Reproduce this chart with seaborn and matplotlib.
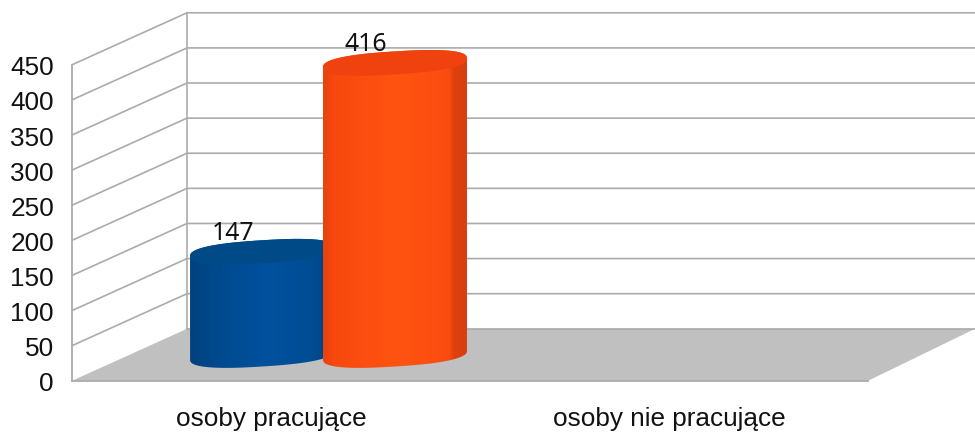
import numpy as np
import pandas as pd
import matplotlib
matplotlib.use('Agg')
import matplotlib.pyplot as plt
from matplotlib.colors import LinearSegmentedColormap
from matplotlib.patches import Polygon

import seaborn as sns

categories = ['osoby pracujące', 'osoby nie pracujące']
series_names = ['seria 1', 'seria 2']
values_first = [147, np.nan]
values_second = [416, np.nan]
y_ticks = [0, 50, 100, 150, 200, 250, 300, 350, 400, 450]

base_colors = ['#00509C', '#FF5011']
top_colors = ['#004A88', '#F0420F']
shade_stops = [
    [(0, '#00427E'), (0.12, '#004788'), (0.3, '#004C93'), (0.55, '#00519F'), (0.85, '#004C93'), (1, '#00427C')],
    [(0, '#E8420E'), (0.08, '#F8480E'), (0.5, '#FF5411'), (0.88, '#FA4C10'), (0.91, '#DE410F'), (1, '#D83E0E')],
]
wall_color = '#ABABAB'
floor_color = '#C0C0C0'

W, H = 975, 439
px_x = 398  # pixels per category
px_y = 316 / 450  # pixels per value unit
depth_x = 115 / px_x
depth_y = 52 / px_y


def draw_walls(ax):
    x0 = -0.5
    x_back = x0 + depth_x
    x_end = (W - 72) / px_x - 0.5
    # floor
    ax.add_patch(Polygon([(x0, 0), (x_back, depth_y), (x_end, depth_y), (1.5, 0)],
                         facecolor=floor_color, edgecolor='none', clip_on=False, zorder=1))
    # grid lines go along the side wall and then along the back wall
    for tick in y_ticks[1:]:
        ax.plot([x0, x_back, x_end], [tick, tick + depth_y, tick + depth_y],
                color=wall_color, lw=1.2, clip_on=False, zorder=2)
    ax.plot([x_back, x_end], [depth_y, depth_y], color=wall_color, lw=1.2, clip_on=False, zorder=2)
    ax.plot([x_back, x_back], [depth_y, y_ticks[-1] + depth_y],
            color=wall_color, lw=1.2, clip_on=False, zorder=2)


def draw_cylinder(ax, bar, stops, top_color, order):
    a = bar.get_width() / 2
    cx = bar.get_x() + a
    h = bar.get_height()
    tilt = 4.5 / px_y
    b = 11.5 / px_y

    t_up = np.linspace(0, np.pi, 80)
    t_low = np.linspace(np.pi, 2 * np.pi, 80)
    t_all = np.linspace(0, 2 * np.pi, 160)

    def curve(t, level):
        # slightly squarer than an ellipse, like the 3d cylinder ends
        c = np.sign(np.cos(t)) * np.abs(np.cos(t)) ** 0.8
        s = np.sign(np.sin(t)) * np.abs(np.sin(t)) ** 0.8
        return np.column_stack([cx + a * c, level + b * s + tilt * c])

    outline = np.vstack([curve(t_up, h), curve(t_low, 0)])
    shape = Polygon(outline, transform=ax.transData)
    bar.set_clip_path(shape)
    bar.set_zorder(3 + order * 3)

    cmap = LinearSegmentedColormap.from_list('shade', stops)
    im = ax.imshow(np.linspace(0, 1, 256).reshape(1, -1), cmap=cmap, aspect='auto',
                   extent=(cx - a, cx + a, -b * 2, h + b * 2), zorder=4 + order * 3)
    im.set_clip_path(shape)
    ax.add_patch(Polygon(curve(t_all, h), facecolor=top_color, edgecolor='none', zorder=5 + order * 3))


def main():
    sns.set_theme(style='white')
    plt.rcParams['font.family'] = ['Liberation Sans', 'DejaVu Sans']

    fig = plt.figure(figsize=(W / 100, H / 100), dpi=100)

    # front plane: holds the axis, the walls and the floor
    ax = fig.add_axes([72 / W, (H - 381.8) / H, 796 / W, 316 / H])
    ax.set_xlim(-0.5, 1.5)
    ax.set_ylim(0, 450)
    draw_walls(ax)
    ax.set_xticks([0, 1], categories)
    ax.set_yticks(y_ticks)
    ax.tick_params(axis='x', length=0, pad=18, labelsize=18.8, colors='#111111')
    ax.tick_params(axis='y', length=0, pad=13, labelsize=18.8, colors='#111111')
    sns.despine(ax=ax)
    for side in ['left', 'bottom']:
        ax.spines[side].set_color(wall_color)
        ax.spines[side].set_linewidth(1.3)

    # bars stand in the middle of the depth, so they get their own overlay axes
    ax_bars = fig.add_axes([0, 0, 1, 1])
    ax_bars.patch.set_alpha(0)

    df = pd.DataFrame({
        'kategoria': categories * 2,
        'seria': [series_names[0]] * 2 + [series_names[1]] * 2,
        'liczba': values_first + values_second,
    })
    sns.barplot(data=df, x='kategoria', y='liczba', hue='seria', order=categories,
                hue_order=series_names, palette=base_colors, width=0.668, gap=-0.083,
                saturation=1, errorbar=None, legend=False, ax=ax_bars)

    order = 0
    for container, stops, top_color in zip(ax_bars.containers, shade_stops, top_colors):
        for bar in container:
            if not np.isfinite(bar.get_height()) or bar.get_height() <= 0:
                continue
            draw_cylinder(ax_bars, bar, stops, top_color, order)
            order += 1
            ax_bars.annotate(f'{bar.get_height():.0f}',
                             xy=(bar.get_x() + bar.get_width() / 2, bar.get_height()),
                             xytext=(-29 * 0.72, 19.5 * 0.72), textcoords='offset points',
                             ha='center', va='center', fontsize=17.8, color='#111111',
                             family=['Noto Sans', 'DejaVu Sans'], zorder=20)

    ax_bars.set_xlim(-328.5 / px_x, (W - 328.5) / px_x)
    ax_bars.set_ylim(-(H - 356) / px_y, 356 / px_y)
    ax_bars.axis('off')

    fig.savefig('out.png', dpi=100)


if __name__ == '__main__':
    main()
